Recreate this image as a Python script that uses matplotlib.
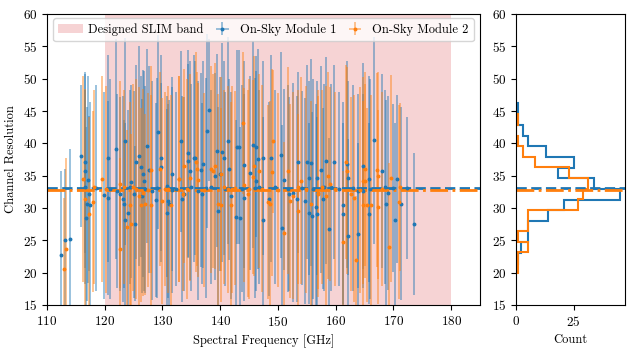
import matplotlib
matplotlib.use("Agg")
import matplotlib.pyplot as plt
from matplotlib.colors import to_rgba

plt.rcParams['font.family'] = 'serif'
plt.rcParams['font.serif'] = ['cmr10', 'DejaVu Serif']
plt.rcParams['mathtext.fontset'] = 'cm'
plt.rcParams['axes.formatter.use_mathtext'] = True
plt.rcParams['font.size'] = 9
plt.rcParams['xtick.labelsize'] = 9.5
plt.rcParams['ytick.labelsize'] = 9.5

# module 1 (blue): frequency [GHz], channel resolution, error
freq1 = [112.5, 113.2, 114.0, 115.9, 116.6, 116.6, 117.1, 116.9, 116.7, 117.4, 117.2, 116.5,
         119.9, 120.6, 120.6, 121.9, 122.2,
         123.55, 122.7, 123.1, 123.4, 123.5, 124.0, 124.6, 125.0, 125.3, 125.4, 126.0, 126.3,
         126.6, 126.4, 126.8, 127.4, 127.6, 128.2, 128.9, 129.3, 129.7, 129.8, 130.8, 130.9,
         131.2, 131.7, 131.7, 130.8,
         138.1, 137.8, 133.2, 134.4, 134.4, 135.4, 135.7, 134.7, 137.0, 136.7, 133.4, 133.7,
         136.2, 136.9, 139.1, 139.5, 140.4, 140.6, 141.3, 140.0, 139.7, 141.6, 141.9, 142.9,
         142.8, 138.4,
         143.2, 145.6, 146.2, 146.6, 147.4, 144.2, 145.2, 146.2, 146.8, 144.1, 143.5, 147.4,
         148.8, 148.5, 150.5, 151.1, 150.7, 152.0, 152.6, 153.4, 153.3,
         155.0, 155.7, 155.4, 154.7, 155.4, 155.9, 156.8, 156.6, 156.8, 157.5, 157.8, 158.3,
         158.9, 159.2, 159.7, 161.2, 161.2, 162.0, 162.1, 162.2, 163.9,
         163.9, 164.8, 164.7, 165.7, 165.8, 166.7, 168.1, 168.7, 169.1, 170.7, 171.3, 170.3,
         172.3, 173.5,
         118.5, 121.0, 124.3, 127.0, 129.0, 132.3, 135.0, 137.5, 140.8, 143.8, 146.0, 149.5,
         151.8, 154.2, 156.0, 158.0, 160.5, 163.0, 166.0, 168.5, 170.0]
res1 = [22.8, 25.1, 25.2, 38.1, 37.1, 35.8, 34.4, 30.6, 28.5, 30.4, 32.2, 33.2,
        32.0, 37.7, 31.6, 39.1, 32.6,
        40.3, 32.2, 31.4, 30.6, 28.1, 29.2, 34.1, 32.1, 27.6, 37.1, 38.1, 36.4,
        35.3, 31.9, 34.2, 39.6, 35.9, 32.7, 31.3, 41.7, 37.7, 36.4, 29.3, 31.1,
        30.7, 35.3, 32.8, 33.4,
        45.2, 41.9, 40.3, 38.5, 37.3, 37.7, 37.7, 35.8, 36.8, 35.9, 31.4, 32.2,
        32.7, 32.2, 34.9, 38.9, 38.6, 37.7, 40.4, 35.3, 29.6, 36.0, 31.9, 39.4,
        28.6, 33.2,
        39.4, 39.8, 39.5, 37.6, 37.7, 36.7, 35.4, 34.2, 33.2, 31.6, 28.5, 28.1,
        37.7, 31.4, 38.2, 34.4, 26.9, 32.2, 32.4, 37.1, 31.4,
        37.1, 37.0, 34.7, 31.1, 29.2, 28.8, 34.7, 30.1, 29.1, 35.9, 31.4, 37.3,
        26.8, 33.2, 37.1, 30.4, 29.1, 36.8, 34.7, 25.7, 26.0,
        32.7, 36.5, 32.7, 34.5, 29.1, 40.5, 35.8, 30.7, 32.3, 34.5, 30.7, 28.2,
        33.1, 27.5,
        33.1, 33.0, 33.2, 32.9, 33.1, 33.0, 33.2, 33.1, 32.9, 33.0, 33.1, 33.2,
        33.0, 33.1, 32.9, 33.2, 33.0, 33.1, 33.0, 33.2, 33.1]
err1 = [13, 11, 14, 11, 14, 15, 16, 15, 14, 16, 12, 15,
        16, 16, 15, 17, 15,
        16, 15, 16, 13, 15, 16, 15, 16, 12, 15, 17, 14,
        16, 15, 17, 15, 16, 17, 15, 15, 16, 13, 16, 15,
        16, 15, 16, 14,
        11, 15, 14, 16, 15, 16, 15, 17, 16, 15, 16, 15,
        17, 14, 16, 15, 17, 15, 16, 15, 16, 14, 16, 15,
        15, 15,
        15, 16, 14, 17, 15, 16, 15, 17, 15, 16, 14, 16,
        16, 15, 16, 14, 16, 15, 17, 14, 16,
        15, 16, 15, 16, 14, 16, 15, 16, 15, 16, 14, 16,
        14, 16, 15, 16, 14, 16, 15, 15, 14,
        15, 16, 15, 16, 14, 16, 15, 16, 15, 13, 15, 15,
        11, 11,
        16, 17, 15, 16, 17, 15, 16, 17, 15, 16, 17, 15,
        16, 15, 17, 16, 15, 16, 17, 15, 13]

# module 2 (orange)
freq2 = [112.9, 113.3, 116.3, 116.5, 117.2, 117.9, 119.5, 118.2,
         122.6, 122.7, 123.4, 123.9, 124.3, 124.6, 124.9, 125.9, 126.2, 126.6, 126.9, 128.0,
         128.0, 129.5, 130.0, 130.4, 131.5, 132.8,
         133.8, 132.9, 133.5, 134.8, 136.0, 135.8, 136.1, 138.4, 138.7, 139.1, 140.2, 139.6,
         140.2, 141.9, 140.7, 141.3, 142.6,
         143.9, 144.2, 144.8, 145.6, 145.8, 146.8, 147.2, 148.2, 148.7, 149.1, 149.0, 151.1,
         151.7, 152.1, 152.6, 153.4,
         154.0, 153.5, 155.7, 156.9, 157.0, 157.6, 158.6, 159.1, 158.3, 161.8, 161.9, 162.7,
         163.2, 161.2, 163.5,
         165.0, 164.7, 165.1, 164.8, 165.5, 166.2, 167.2, 167.3, 167.4, 169.6, 169.3, 170.9,
         171.2,
         120.2, 125.5, 127.5, 131.0, 134.2, 137.2, 142.0, 145.0, 150.0, 154.8, 159.8, 164.2,
         168.0]
res2 = [20.5, 23.7, 34.5, 31.4, 29.1, 31.0, 34.5, 33.2,
        23.7, 33.7, 33.2, 27.0, 30.4, 27.5, 33.2, 31.8, 30.5, 32.4, 30.6, 35.9,
        30.5, 36.0, 31.1, 32.9, 30.5, 34.5,
        36.5, 34.5, 32.2, 34.7, 36.1, 37.1, 34.4, 36.0, 35.8, 36.5, 35.3, 30.6,
        30.4, 30.4, 33.2, 32.9, 33.1,
        43.2, 33.5, 32.2, 34.8, 36.5, 35.8, 33.0, 30.9, 30.6, 40.3, 35.5, 26.2,
        35.8, 31.1, 31.9, 33.2,
        34.2, 29.6, 30.6, 32.4, 32.2, 33.2, 35.0, 33.7, 31.9, 37.1, 35.8, 32.2,
        31.5, 24.7, 21.9,
        36.0, 34.2, 34.2, 30.5, 30.4, 30.5, 35.9, 35.0, 30.1, 34.6, 23.9, 30.9,
        33.2,
        32.9, 33.0, 32.8, 32.9, 33.0, 32.8, 32.9, 33.0, 32.8, 32.9, 33.0, 32.8,
        32.9]
err2 = [11, 14, 16, 17, 15, 14, 16, 15,
        14, 16, 15, 15, 16, 14, 16, 17, 15, 16, 14, 16,
        17, 15, 16, 15, 17, 16,
        15, 16, 15, 16, 15, 17, 15, 16, 15, 16, 15, 17,
        15, 16, 15, 16, 15,
        11, 15, 16, 15, 17, 15, 16, 15, 16, 11, 16, 14,
        16, 15, 16, 15,
        16, 15, 16, 15, 16, 15, 16, 15, 17, 15, 16, 15,
        16, 11, 10,
        15, 16, 15, 16, 15, 17, 15, 16, 15, 16, 13, 15,
        13,
        16, 17, 15, 16, 17, 15, 16, 17, 15, 16, 15, 16,
        15]

# histograms (counts read per bin)
edges1 = [21.4, 23.05, 24.7, 26.35, 28.0, 29.65, 31.3, 32.95, 34.6, 36.25, 37.9, 39.55,
          41.2, 42.85, 44.5, 46.2]
counts1 = [1, 2, 5, 5, 14, 21, 45, 34, 18, 25, 13, 5, 3, 1, 1]
edges2 = [19.9, 21.54, 23.18, 24.82, 26.46, 28.1, 29.74, 31.38, 33.02, 34.66, 36.3, 37.94,
          39.58, 41.22, 42.86, 44.5]
counts2 = [1, 1, 5, 1, 5, 5, 27, 29, 31, 23, 8, 3, 1, 0, 1]

median1 = 33.1
median2 = 32.85

fig = plt.figure(figsize=(6.34, 3.53), dpi=100)
ax = fig.add_axes([0.0741, 0.136, 0.683, 0.824])
ax2 = fig.add_axes([0.814, 0.136, 0.172, 0.824])

ax.axvspan(120, 180, color='tab:red', alpha=0.2, lw=0, label='Designed SLIM band')
xe1 = [0.05] * len(freq1)
xe2 = [0.05] * len(freq2)
ax.errorbar(freq1, res1, yerr=err1, xerr=xe1, fmt='o', ms=1.8, color='tab:blue',
            ecolor=to_rgba('tab:blue', 0.45), elinewidth=1.4, capsize=0,
            label='On-Sky Module 1')
ax.errorbar(freq2, res2, yerr=err2, xerr=xe2, fmt='o', ms=1.8, color='tab:orange',
            ecolor=to_rgba('tab:orange', 0.45), elinewidth=1.4, capsize=0,
            label='On-Sky Module 2')
ax.axhline(median1, color='tab:blue', ls='--', lw=2)
ax.axhline(median2, color='tab:orange', ls='-.', lw=2)

ax.set_xlim(110, 185)
ax.set_ylim(15, 60)
ax.set_xticks([110, 120, 130, 140, 150, 160, 170, 180])
ax.set_xlabel('Spectral Frequency [GHz]')
ax.set_ylabel('Channel Resolution')
ax.legend(loc='upper center', ncol=3, fontsize=9, handletextpad=0.4,
          columnspacing=0.5, borderaxespad=0.35)

ax2.stairs(counts1, edges1, orientation='horizontal', color='tab:blue', lw=1.5)
ax2.stairs(counts2, edges2, orientation='horizontal', color='tab:orange', lw=1.5)
ax2.axhline(median1, color='tab:blue', ls='--', lw=2)
ax2.axhline(median2, color='tab:orange', ls='-.', lw=2)
ax2.set_ylim(15, 60)
ax2.set_xlim(0, 47.3)
ax2.set_xticks([0, 25])
ax2.set_xlabel('Count')

plt.savefig('out.png', dpi=100)
